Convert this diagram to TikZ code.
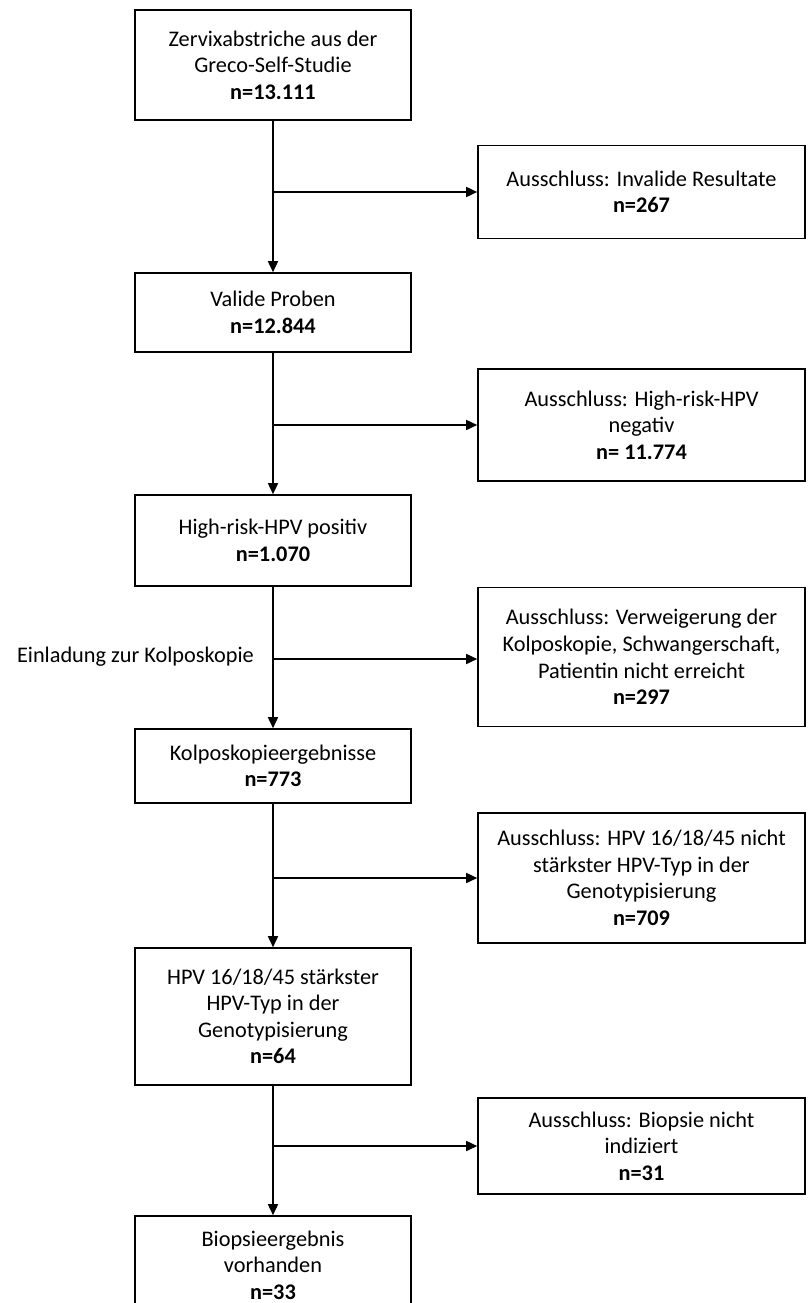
\documentclass[tikz,border=0pt]{standalone}
\usepackage{fontspec}
\setmainfont{Carlito}
\usetikzlibrary{arrows.meta, positioning}

\tikzset{
  stage/.style={draw, line width=1.6pt, minimum width=276pt, align=center, inner sep=0pt},
  drop/.style={draw, line width=1.6pt, minimum width=327pt, align=center, inner sep=0pt},
  flow/.style={line width=1.6pt, -{Triangle[length=11pt,width=10pt]}},
}

\begin{document}
\begin{tikzpicture}[x=1pt, y=-1pt, font=\fontsize{22.3}{26.5}\selectfont]
\useasboundingbox (0,0) rectangle (809,1303);

% Main column
\node[stage, minimum height=110pt] (s1) at (273,65) {Zervixabstriche aus der\\Greco-Self-Studie\\\textbf{n=13.111}};
\node[stage, minimum height=79pt] (s2) at (273,312.5) {Valide Proben\\\textbf{n=12.844}};
\node[stage, minimum height=91pt] (s3) at (273,540.5) {High-risk-HPV positiv\\\textbf{n=1.070}};
\node[stage, minimum height=74pt] (s4) at (273,766) {Kolposkopieergebnisse\\\textbf{n=773}};
\node[stage, minimum height=137pt] (s5) at (273,1016.5) {HPV 16/18/45 st\"arkster\\HPV-Typ in der\\Genotypisierung\\\textbf{n=64}};
\node[stage, minimum height=98pt] (s6) at (273,1265) {Biopsieergebnis\\vorhanden\\\textbf{n=33}};

% Exclusions
\node[drop, minimum height=93pt] (x1) at (641.5,192) {Ausschluss: Invalide Resultate\\\textbf{n=267}};
\node[drop, minimum height=112pt] (x2) at (641.5,425) {Ausschluss: High-risk-HPV\\negativ\\\textbf{n= 11.774}};
\node[drop, minimum height=139pt] (x3) at (641.5,657) {Ausschluss: Verweigerung der\\Kolposkopie, Schwangerschaft,\\Patientin nicht erreicht\\\textbf{n=297}};
\node[drop, minimum height=130pt] (x4) at (641.5,878) {Ausschluss: HPV 16/18/45 nicht\\st\"arkster HPV-Typ in der\\Genotypisierung\\\textbf{n=709}};
\node[drop, minimum height=96pt] (x5) at (641.5,1146) {Ausschluss: Biopsie nicht\\indiziert\\\textbf{n=31}};

% Branch points
\coordinate (b1) at (273,192);
\coordinate (b2) at (273,425);
\coordinate (b3) at (273,659);
\coordinate (b4) at (273,878);
\coordinate (b5) at (273,1146);

\node[anchor=east, inner sep=0pt] (inv) at (254,657) {Einladung zur Kolposkopie};

% Arrows
\draw[flow] (s1) -- (s2);
\draw[flow] (s2) -- (s3);
\draw[flow] (s3) -- (s4);
\draw[flow] (s4) -- (s5);
\draw[flow] (s5) -- (s6);

\draw[flow] (b1) -- (x1);
\draw[flow] (b2) -- (x2);
\draw[flow] (b3) -- (b3 -| x3.west);
\draw[flow] (b4) -- (x4);
\draw[flow] (b5) -- (x5);

\end{tikzpicture}
\end{document}
